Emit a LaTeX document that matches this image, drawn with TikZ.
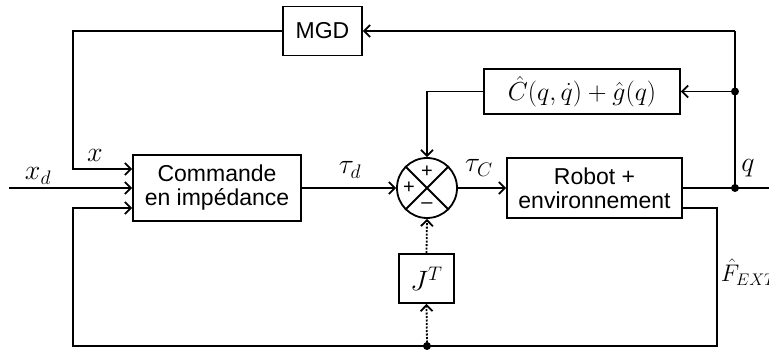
\RequirePackage{fix-cm}
\documentclass[tikz,border=0pt]{standalone}
\usepackage{fontspec}
\setmainfont{Liberation Sans}
\usetikzlibrary{arrows.meta,calc}
\begin{document}
\begin{tikzpicture}[x=1pt,y=-1pt,
  line width=1.8pt,
  blk/.style={draw,rectangle,inner sep=0pt,align=center,font=\fontsize{23}{27}\selectfont},
  mblk/.style={blk,font=\fontsize{26}{30}\selectfont},
  arr/.style={-{Straight Barb[length=6pt,width=12pt,line width=1.8pt]}},
  lbl/.style={inner sep=0pt,font=\fontsize{28}{32}\selectfont},
  sgn/.style={inner sep=0pt,font=\fontsize{20}{22}\selectfont},
  dotpt/.style={circle,fill,inner sep=0pt,minimum size=8pt},
  dots/.style={line width=1.8pt,dash pattern=on 2pt off 1.5pt}]
\useasboundingbox (0,0) rectangle (769,350);
% blocks
\node[blk,minimum width=79pt,minimum height=49pt] (mgd) at (322.5,31) {MGD};
\node[blk,minimum width=168pt,minimum height=66pt] (cmd) at (217,188) {Commande\\[-3pt]en impédance};
\node[draw,circle,inner sep=0pt,minimum size=60pt] (sum) at (427,188) {};
\node[mblk,minimum width=196pt,minimum height=45pt] (cg) at (582,91.5) {$\hat{C}(q,\dot{q})+\hat{g}(q)$};
\node[blk,minimum width=175pt,minimum height=60pt] (robot) at (594.5,188) {Robot +\\[-3pt]environnement};
\node[mblk,font=\fontsize{28}{32}\selectfont,minimum width=55pt,minimum height=49pt] (jt) at (426.5,278.5) {$J^T$};
% summing junction cross and signs
\draw (sum.north east) -- (sum.south west);
\draw (sum.north west) -- (sum.south east);
\node[sgn] (p1) at (427,172) {+};
\node[sgn] (p2) at (409,188) {+};
\node[sgn] (m1) at (427,206) {–};
% coordinates
\coordinate (xin) at (9,188);
\coordinate (lx) at (73,169);
\coordinate (out) at (769,188);
\node[dotpt] (q1) at (735,188) {};
\node[dotpt] (q2) at (735,91.5) {};
\coordinate (qtop) at (735,31);
\coordinate (fs) at (682,208);
\coordinate (f2) at (717,346);
\node[dotpt] (bd) at (427,346) {};
\coordinate (f3) at (73,346);
\coordinate (f4) at (73,208);
% connectors
\draw[arr] (xin) -- (cmd.west);
\draw[arr] (mgd.west) -| (lx) -- (lx -| cmd.west);
\draw[arr] (cmd.east) -- (sum.west);
\draw[arr] (sum.east) -- (robot.west);
\draw (robot.east) -- (out);
\draw (q1.center) -- (qtop);
\draw[arr] (qtop) -- (mgd.east);
\draw[arr] (q2.center) -- (cg.east);
\draw[arr] (cg.west) -| (sum.north);
\draw[arr] (fs) -| (f2) -- (f3) -- (f4) -- (f4 -| cmd.west);
\draw[arr,dots] (bd.center) -- (jt.south);
\draw[arr,dots] (jt.north) -- (sum.south);
% labels
\node[lbl] (lxl) at (95,155) {$x$};
\node[lbl] (lxd) at (38,176) {$x_d$};
\node[lbl] (ltd) at (350,170) {$\tau_d$};
\node[lbl] (ltc) at (479,168) {$\tau_C$};
\node[lbl] (lq) at (748,168) {$q$};
\node[lbl,anchor=west,font=\fontsize{24}{28}\selectfont] (lf) at (720,272) {$\hat{F}_{EXT}$};
\end{tikzpicture}
\end{document}
